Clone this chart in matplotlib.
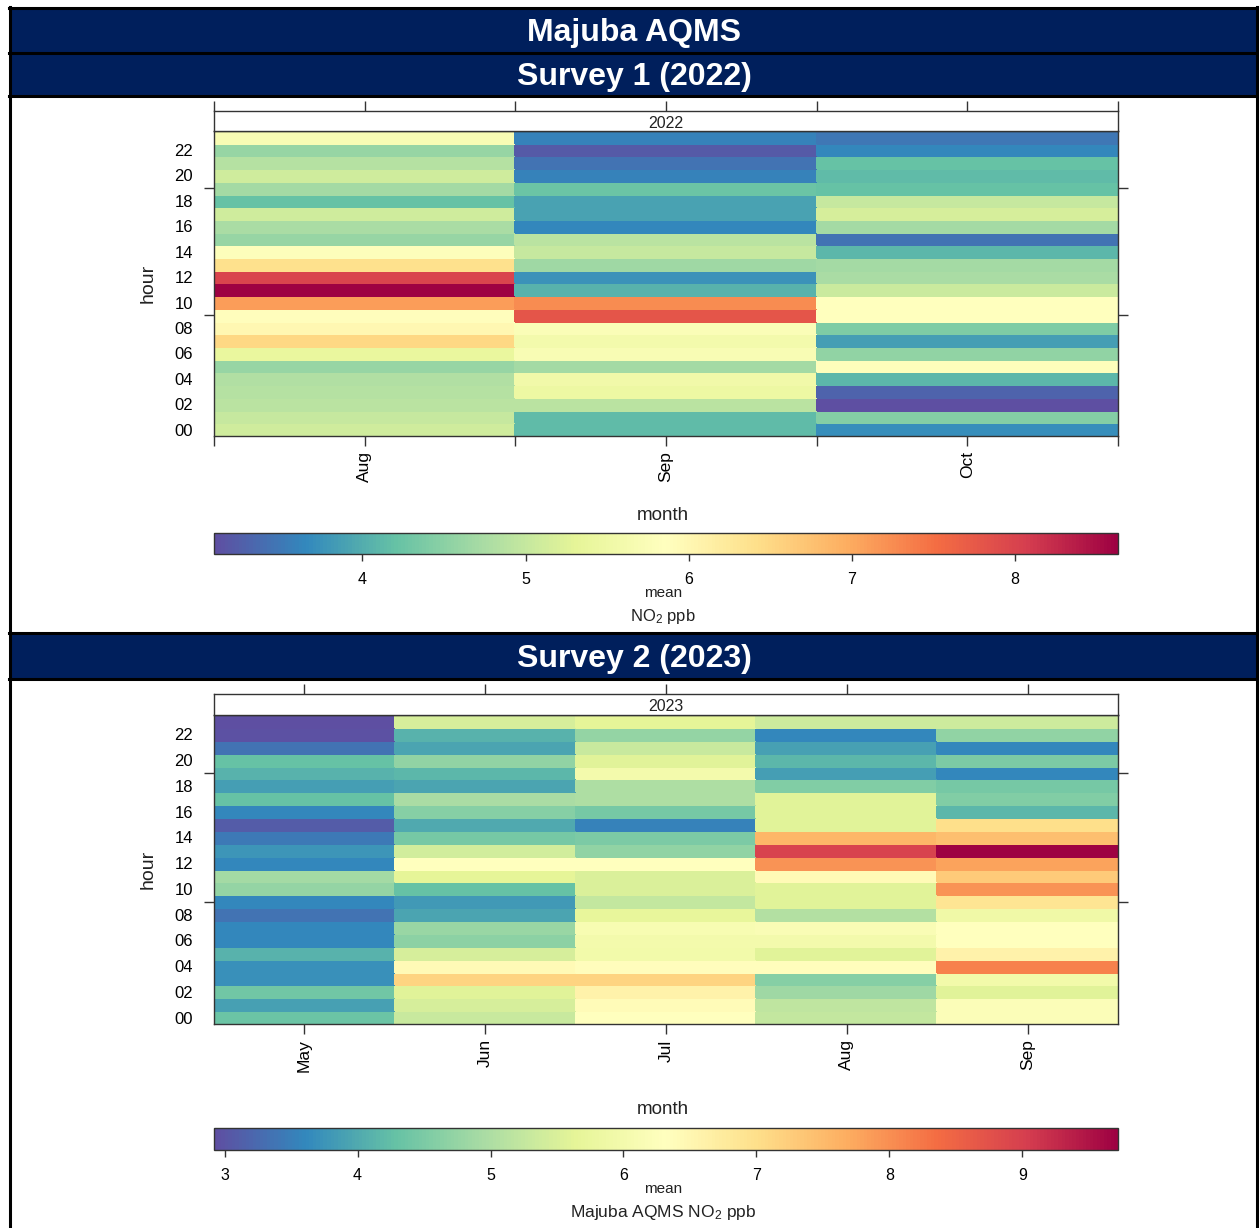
import numpy as np
import matplotlib
matplotlib.use("Agg")
import matplotlib.pyplot as plt
from matplotlib.colors import Normalize
from matplotlib.ticker import FixedLocator, NullFormatter
from matplotlib.patches import Rectangle
from matplotlib.lines import Line2D

plt.rcParams["font.family"] = ["Liberation Sans", "DejaVu Sans"]
plt.rcParams["mathtext.fontset"] = "custom"
plt.rcParams["mathtext.rm"] = "Liberation Sans"
plt.rcParams["mathtext.it"] = "Liberation Sans:italic"

# ---- data: mean NO2 (ppb) by hour of day (00..23) for each month ----
hours = [f"{h:02d}" for h in range(24)]

months_2022 = ["Aug", "Sep", "Oct"]
aug_2022 = [5.1, 5.0, 4.9, 4.85, 4.8, 4.6, 5.4, 6.5, 6.0, 5.9, 7.1, 8.63,
            8.0, 6.4, 5.8, 4.6, 4.75, 5.1, 4.2, 4.7, 5.1, 4.85, 4.6, 5.7]
sep_2022 = [4.15, 4.15, 4.9, 5.45, 5.55, 4.7, 5.7, 5.6, 5.75, 7.8, 7.25, 4.05,
            3.75, 4.65, 5.0, 4.9, 3.65, 3.9, 3.9, 4.25, 3.6, 3.45, 3.2, 3.6]
oct_2022 = [3.7, 4.45, 3.09, 3.3, 4.1, 5.8, 4.55, 3.85, 4.4, 5.85, 5.85, 5.05,
            4.75, 4.7, 4.1, 3.45, 4.7, 5.15, 5.0, 4.2, 4.15, 4.2, 3.65, 3.5]

months_2023 = ["May", "Jun", "Jul", "Aug", "Sep"]
may_2023 = [4.35, 3.9, 4.4, 3.7, 3.7, 4.1, 3.6, 3.6, 3.35, 3.6, 4.75, 4.9,
            3.6, 3.75, 3.45, 3.1, 3.6, 4.28, 3.85, 4.1, 4.28, 3.35, 2.95, 2.92]
jun_2023 = [5.3, 5.45, 5.6, 7.15, 6.45, 5.45, 4.65, 4.8, 3.95, 3.8, 4.3, 5.65,
            6.3, 5.4, 4.45, 4.0, 4.6, 4.95, 3.95, 4.15, 4.7, 3.95, 4.1, 5.45]
jul_2023 = [6.3, 6.4, 6.6, 7.15, 6.35, 5.95, 6.0, 6.1, 5.7, 5.25, 5.5, 5.5,
            6.3, 4.7, 4.5, 3.55, 4.45, 5.0, 5.0, 6.0, 5.6, 5.3, 4.75, 5.65]
aug_2023 = [5.25, 5.2, 4.85, 4.6, 6.35, 5.6, 6.0, 6.15, 5.05, 5.6, 5.6, 6.45,
            7.95, 8.95, 7.55, 5.6, 5.6, 5.6, 4.55, 3.85, 4.15, 3.9, 3.6, 5.35]
sep_2023 = [6.2, 6.2, 5.6, 5.95, 8.15, 6.6, 6.3, 6.3, 5.9, 6.9, 7.95, 7.3,
            7.8, 9.72, 7.45, 7.0, 4.15, 4.55, 4.45, 3.6, 4.5, 3.6, 4.7, 5.35]

W, H = 1259, 1228
fig = plt.figure(figsize=(W / 100, H / 100), dpi=100)
fig.patch.set_facecolor("white")

NAVY = "#001f5c"
FRAME = "#333333"
cmap = plt.get_cmap("Spectral_r")


def rect(x0, y0, x1, y1):
    """Pixel box (top-left origin) -> figure fraction [l, b, w, h]."""
    return [x0 / W, 1 - y1 / H, (x1 - x0) / W, (y1 - y0) / H]


def fx(x):
    return x / W


def fy(y):
    return 1 - y / H


# ---- title bands and table rules ----
for (y0, y1, label) in [(8, 52, "Majuba AQMS"), (53, 95, "Survey 1 (2022)"),
                        (634, 678, "Survey 2 (2023)")]:
    fig.patches.append(Rectangle((fx(10), fy(y1)), fx(1257) - fx(10), fy(y0) - fy(y1),
                                 transform=fig.transFigure, facecolor=NAVY,
                                 edgecolor="none", zorder=0))
    fig.text(fx(634), fy((y0 + y1) / 2 + 3), label, color="white", fontsize=23,
             fontweight="bold", ha="center", va="center")

for y in [7.5, 52.5, 95.5, 633, 678.5]:
    fig.lines.append(Line2D([fx(9), fx(1258)], [fy(y), fy(y)], transform=fig.transFigure,
                            color="black", lw=2.2))
for x in [9.8, 1257.2]:
    fig.lines.append(Line2D([fx(x), fx(x)], [fy(7), fy(1228)], transform=fig.transFigure,
                            color="black", lw=2.2))


def panel(columns, months, year, top, cb_top, title_lines, title_size, edge_ticks):
    strip_top, hm_top, hm_bot = top
    n = len(columns)
    Z = np.array(columns).T  # rows = hours, cols = months
    norm = Normalize(vmin=Z.min(), vmax=Z.max())

    ax = fig.add_axes(rect(214, hm_top, 1118, hm_bot))
    mesh = ax.pcolormesh(np.arange(n + 1), np.arange(25), Z, cmap=cmap, norm=norm,
                         shading="flat", edgecolors="face", linewidth=0.3)
    ax.set_xlim(0, n)
    ax.set_ylim(0, 24)

    # hour labels (every second hour), short ticks at a few hours
    ax.yaxis.set_major_locator(FixedLocator(np.arange(0, 24, 2) + 0.5))
    ax.set_yticklabels(hours[::2], fontsize=12)
    ax.yaxis.set_minor_locator(FixedLocator([4.5, 9.5, 14.5, 19.5]))
    ax.tick_params(axis="y", which="major", length=0, pad=15)
    ax.tick_params(axis="y", which="minor", length=7, width=1, color=FRAME,
                   left=True, right=True, direction="out")

    centers = np.arange(n) + 0.5
    ax.xaxis.set_major_locator(FixedLocator(centers))
    ax.set_xticklabels(months, rotation=90, fontsize=12.5)
    ax.tick_params(axis="x", which="major", length=7, width=1, color=FRAME,
                   pad=4, direction="out")
    if edge_ticks:
        ax.xaxis.set_minor_locator(FixedLocator(np.arange(n + 1)))
        ax.tick_params(axis="x", which="minor", length=7, width=1, color=FRAME,
                       direction="out")
    for s in ax.spines.values():
        s.set_color(FRAME)
        s.set_linewidth(1)

    # strip with the year, ticks along its top edge
    sx = fig.add_axes(rect(214, strip_top, 1118, hm_top))
    sx.set_xlim(0, n)
    sx.set_ylim(0, 1)
    sx.set_facecolor("white")
    sx.text(n / 2, 0.4, year, ha="center", va="center", fontsize=11.5, color="#222222")
    sx.set_yticks([])
    sx.xaxis.tick_top()
    sx.xaxis.set_major_locator(FixedLocator(centers))
    sx.xaxis.set_major_formatter(NullFormatter())
    sx.tick_params(axis="x", which="major", length=7, width=1, color=FRAME, direction="out")
    if edge_ticks:
        sx.xaxis.set_minor_locator(FixedLocator(np.arange(n + 1)))
        sx.xaxis.set_minor_formatter(NullFormatter())
        sx.tick_params(axis="x", which="minor", top=True, bottom=False, length=7,
                       width=1, color=FRAME, direction="out")
    for s in sx.spines.values():
        s.set_color(FRAME)
        s.set_linewidth(1)

    fig.text(fx(148), fy((hm_top + hm_bot) / 2), "hour", rotation=90, fontsize=14,
             ha="center", va="center", color="#222222")

    # colour key
    cb_y0, cb_y1 = cb_top
    fig.text(fx(663), fy(cb_y0 - 18), "month", fontsize=13.5, ha="center", va="center",
             color="#222222")
    cax = fig.add_axes(rect(214, cb_y0, 1118, cb_y1))
    cb = fig.colorbar(mesh, cax=cax, orientation="horizontal")
    ticks = [t for t in range(0, 12) if norm.vmin <= t <= norm.vmax]
    cb.set_ticks(ticks)
    cb.set_ticklabels([str(t) for t in ticks])
    cax.tick_params(length=5, width=1, color=FRAME, pad=8, labelsize=11.5)
    cb.outline.set_edgecolor(FRAME)
    cb.outline.set_linewidth(1)
    fig.text(fx(663), fy(cb_y1 + 39), "mean", fontsize=11, ha="center", va="center",
             color="#222222")
    fig.text(fx(663), fy(cb_y1 + 63), title_lines, fontsize=title_size, ha="center",
             va="center", color="#222222")


panel([aug_2022, sep_2022, oct_2022], months_2022, "2022",
      (111, 131, 436), (533, 554), r"NO$_\mathregular{2}$ ppb", 12, True)
panel([may_2023, jun_2023, jul_2023, aug_2023, sep_2023], months_2023, "2023",
      (694, 715, 1024), (1128, 1150), r"Majuba AQMS NO$_\mathregular{2}$ ppb", 12.5, False)

fig.savefig("out.png", dpi=100)
